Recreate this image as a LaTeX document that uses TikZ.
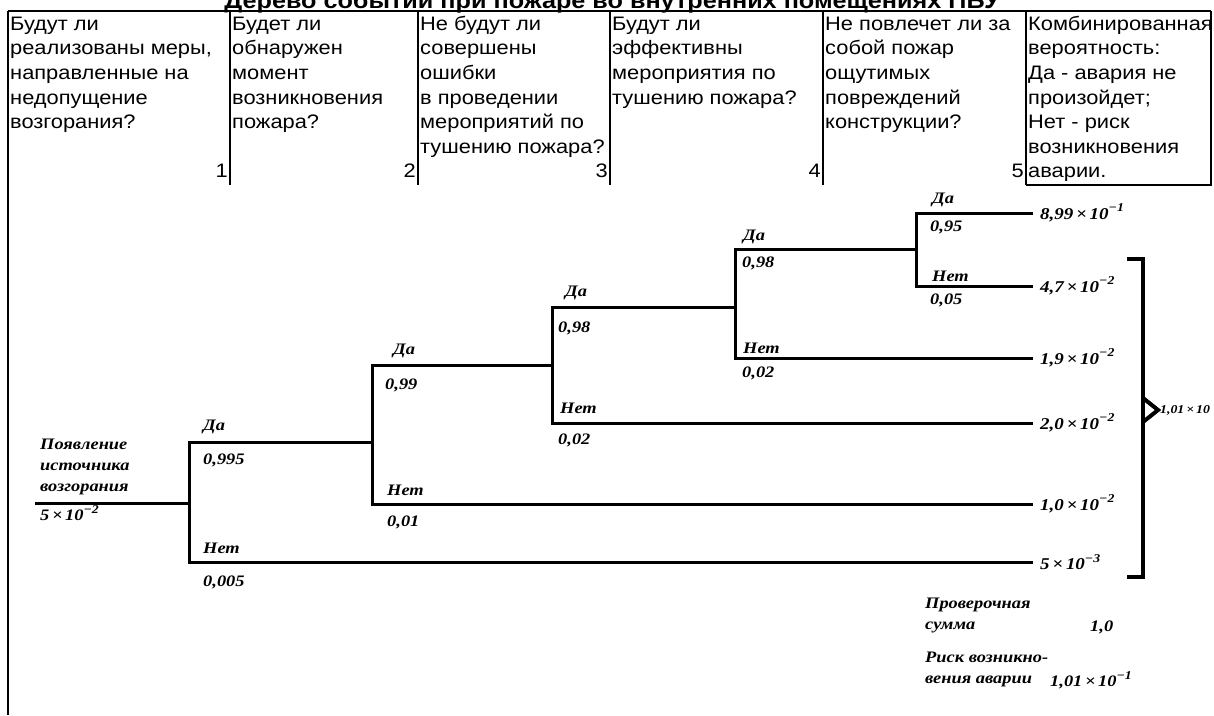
\documentclass[tikz,border=0pt]{standalone}
\usepackage{fontspec}
\newfontfamily\hdrfont[FakeStretch=1.12]{Liberation Sans}
\newfontfamily\trfont[FakeStretch=1.15]{Liberation Serif}
\newcommand\pw[1]{\raisebox{0.45em}{\fontsize{12}{12}\selectfont #1}}
\tikzset{
  hdr/.style={anchor=north west, inner sep=0pt, align=left, font=\hdrfont\fontsize{19.5}{24.6}\selectfont},
  num/.style={anchor=base east, inner sep=0pt, font=\hdrfont\fontsize{19.5}{24.6}\selectfont},
  grid/.style={line width=2pt},
  branch/.style={line width=3pt, line join=miter},
  brk/.style={line width=4pt, line join=miter},
  lbl/.style={anchor=west, inner sep=0pt, font=\trfont\bfseries\itshape\fontsize{16}{21}\selectfont, align=left},
  res/.style={anchor=west, inner sep=0pt, font=\trfont\bfseries\itshape\fontsize{16.5}{18}\selectfont},
}
\begin{document}
\begin{tikzpicture}[x=1pt,y=-1pt]
\useasboundingbox (0,0) rectangle (1214,715);
% title (clipped at top)
\node[anchor=base, inner sep=0pt, font=\hdrfont\bfseries\fontsize{22.5}{22.5}\selectfont] (title) at (612,8) {Дерево событий при пожаре во внутренних помещениях ПБУ};
% table lines
\draw[grid] (8,11) -- (1211,11);
\draw[line width=1.5pt] (8,11) -- (8,715);
\foreach \x in {230,418,610,823,1026} \draw[grid] (\x,11) -- (\x,185);
\draw[grid] (1211,11) -- (1211,185) -- (1026,185);
% header texts
\node[hdr] (h1) at (10,11) {\rule{0pt}{19pt}Будут ли\\реализованы меры,\\направленные на\\недопущение\\возгорания?};
\node[hdr] (h2) at (232,11) {\rule{0pt}{19pt}Будет ли\\обнаружен\\момент\\возникновения\\пожара?};
\node[hdr] (h3) at (420,11) {\rule{0pt}{19pt}Не будут ли\\совершены\\ошибки\\в проведении\\мероприятий по\\тушению пожара?};
\node[hdr] (h4) at (612,11) {\rule{0pt}{19pt}Будут ли\\эффективны\\мероприятия по\\тушению пожара?};
\node[hdr] (h5) at (825,11) {\rule{0pt}{19pt}Не повлечет ли за\\собой пожар\\ощутимых\\повреждений\\конструкции?};
\node[hdr] (h6) at (1028,11) {\rule{0pt}{19pt}Комбинированная\\вероятность:\\Да - авария не\\произойдет;\\Нет - риск\\возникновения\\аварии.};
\node[num] (n1) at (228,177.6) {1};
\node[num] (n2) at (416,177.6) {2};
\node[num] (n3) at (608,177.6) {3};
\node[num] (n4) at (821,177.6) {4};
\node[num] (n5) at (1024,177.6) {5};
% tree coordinates
\coordinate (s0) at (35,503);
\coordinate (j1) at (189,503);
\coordinate (a1) at (189,442); \coordinate (b1) at (189,562);
\coordinate (j2) at (372,442);
\coordinate (a2) at (372,365); \coordinate (b2) at (372,504);
\coordinate (j3) at (552,365);
\coordinate (a3) at (552,307); \coordinate (b3) at (552,423);
\coordinate (j4) at (735,307);
\coordinate (a4) at (735,249); \coordinate (b4) at (735,358);
\coordinate (j5) at (916,249);
\coordinate (a5) at (916,213); \coordinate (b5) at (916,286);
\coordinate (e1) at (1033,213); \coordinate (e2) at (1033,286);
\coordinate (e3) at (1033,358); \coordinate (e4) at (1033,423);
\coordinate (e5) at (1033,504); \coordinate (e6) at (1033,562);
% branches
\draw[branch] (s0) -- (j1);
\draw[branch] (j2) -- (a1) -- (b1) -- (e6);
\draw[branch] (j3) -- (a2) -- (b2) -- (e5);
\draw[branch] (j4) -- (a3) -- (b3) -- (e4);
\draw[branch] (j5) -- (a4) -- (b4) -- (e3);
\draw[branch] (e1) -- (a5) -- (b5) -- (e2);
% labels
\node[lbl] (src) at (40,467) {Появление\\источника\\возгорания};
\node[lbl] (p0) at (40,513) {5\,×\,10\pw{−2}};
\node[lbl] (y1) at (203,427) {Да};   \node[lbl] (py1) at (203,460) {0,995};
\node[lbl] (n1l) at (203,548) {Нет}; \node[lbl] (pn1) at (203,582) {0,005};
\node[lbl] (y2) at (393,351) {Да};   \node[lbl] (py2) at (385,385) {0,99};
\node[lbl] (n2l) at (387,490) {Нет}; \node[lbl] (pn2) at (387,522) {0,01};
\node[lbl] (y3) at (565,293) {Да};   \node[lbl] (py3) at (558,328) {0,98};
\node[lbl] (n3l) at (560,408) {Нет}; \node[lbl] (pn3) at (558,440) {0,02};
\node[lbl] (y4) at (743,237) {Да};   \node[lbl] (py4) at (742,263) {0,98};
\node[lbl] (n4l) at (743,348) {Нет}; \node[lbl] (pn4) at (742,373) {0,02};
\node[lbl] (y5) at (932,200) {Да};   \node[lbl] (py5) at (930,227) {0,95};
\node[lbl] (n5l) at (932,276) {Нет}; \node[lbl] (pn5) at (930,300) {0,05};
% results
\node[res] (r1) at ([xshift=7pt]e1) {8,99\,×\,10\pw{−1}};
\node[res] (r2) at ([xshift=7pt]e2) {4,7\,×\,10\pw{−2}};
\node[res] (r3) at ([xshift=7pt]e3) {1,9\,×\,10\pw{−2}};
\node[res] (r4) at ([xshift=7pt]e4) {2,0\,×\,10\pw{−2}};
\node[res] (r5) at ([xshift=7pt]e5) {1,0\,×\,10\pw{−2}};
\node[res] (r6) at ([xshift=7pt]e6) {5\,×\,10\pw{−3}};
% bracket
\coordinate (k1) at (1127,259); \coordinate (k2) at (1143,259);
\coordinate (k3) at (1143,577); \coordinate (k4) at (1127,577);
\coordinate (t1) at (1143,398); \coordinate (tip) at (1158,410); \coordinate (t2) at (1143,422);
\draw[brk] (k1) -- (k2) -- (k3) -- (k4);
\draw[brk] (t1) -- (tip) -- (t2);
\node[res, font=\trfont\bfseries\itshape\fontsize{12}{12}\selectfont] (sum) at ([xshift=2pt]tip) {1,01\,×\,10};
% check sums
\node[lbl] (chk) at (925,615) {Проверочная\\сумма};
\node[lbl] (chkv) at (1090,627) {1,0};
\node[lbl] (risk) at (925,669) {Риск возникно-\\вения аварии};
\node[lbl] (riskv) at (1050,680) {1,01\,×\,10\pw{−1}};
\end{tikzpicture}
\end{document}
